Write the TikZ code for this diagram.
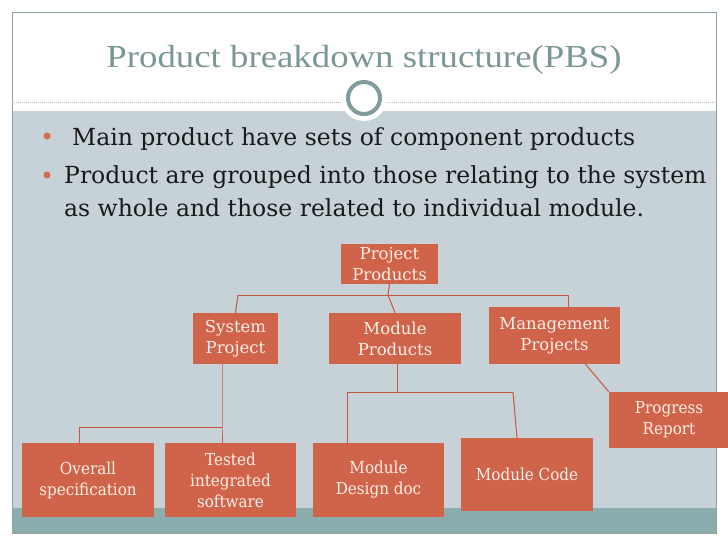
\documentclass[tikz,border=0pt]{standalone}
\usepackage{fontspec}
\setmainfont{DejaVu Serif}
\newfontfamily\titlefont[FakeStretch=1.15]{Liberation Serif}
\newfontfamily\condfont[FakeStretch=0.92]{DejaVu Serif}
\definecolor{boxfill}{HTML}{D0644A}
\definecolor{boxtext}{HTML}{FCEFE8}
\definecolor{linecol}{HTML}{C8563F}
\definecolor{bandgray}{HTML}{C6D2D8}
\definecolor{bandteal}{HTML}{8BADAD}
\definecolor{framecol}{HTML}{8FA3A3}
\definecolor{titlecol}{HTML}{7A9696}
\definecolor{circcol}{HTML}{7F9B9B}
\definecolor{dotcol}{HTML}{A9B8C0}
\definecolor{bulletcol}{HTML}{D9694E}
\definecolor{bodytext}{HTML}{1A1A1A}
\tikzset{
  pbox/.style={rectangle, fill=boxfill, text=boxtext, align=center, inner sep=0pt,
    font=\fontsize{16.5}{21}\selectfont},
  lowbox/.style={pbox, font=\condfont\fontsize{16.5}{21}\selectfont},
  conn/.style={draw=linecol, line width=1pt},
  bodyline/.style={anchor=base west, inner sep=0pt, text=bodytext,
    font=\fontsize{23.5}{28}\selectfont},
  bulletdot/.style={fill=bulletcol}
}
\begin{document}
\begin{tikzpicture}[x=1pt,y=-1pt]
\useasboundingbox (0,0) rectangle (728,546);
\fill[white] (0,0) rectangle (728,546);
% bands
\fill[bandgray] (12,111) rectangle (716,508);
\fill[bandteal] (12,508) rectangle (716,533);
\draw[framecol, line width=0.8pt] (12,12) rectangle (716,533);
\draw[dotcol, line width=0.8pt, dash pattern=on 1pt off 1pt] (12,102) -- (716,102);
\fill[white] (364,98) circle (23);
\draw[circcol, line width=4pt] (364,98) circle (16);
% title
\node[anchor=base, inner sep=0pt, text=titlecol, font=\titlefont\fontsize{32}{36}\selectfont] (title) at (364,67) {Product breakdown structure(PBS)};
% bullets
\fill[bulletdot] (47,136) circle (3.5);
\fill[bulletdot] (47,175) circle (3.5);
\node[bodyline] (b1) at (72,145) {Main product have sets of component products};
\node[bodyline] (b2) at (64,183) {Product are grouped into those relating to the system};
\node[bodyline] (b3) at (64,216) {as whole and those related to individual module.};
% boxes
\node[pbox, minimum width=97pt, minimum height=40pt] (pp) at (389.5,264) {Project\\Products};
\node[pbox, minimum width=85pt, minimum height=51pt] (sp) at (235.5,338.5) {System\\Project};
\node[pbox, minimum width=132pt, minimum height=51pt] (mp) at (395,338.5) {Module\\Products};
\node[pbox, minimum width=131pt, minimum height=57pt] (mg) at (554.5,335.5) {Management\\Projects};
\node[lowbox, minimum width=120pt, minimum height=56pt] (pr) at (669,420) {Progress\\Report};
\node[lowbox, minimum width=132pt, minimum height=74pt] (os) at (88,480) {Overall\\specification};
\node[lowbox, minimum width=131pt, minimum height=74pt] (ti) at (230.5,480) {Tested\\integrated\\software};
\node[lowbox, minimum width=131pt, minimum height=74pt] (md) at (378.5,480) {Module\\Design doc};
\node[lowbox, minimum width=132pt, minimum height=73pt] (mc) at (527,474.5) {Module Code};
% connectors
\coordinate (j1) at (388,295);
\coordinate (hl) at (238,295);
\coordinate (hr) at (568,295);
\draw[conn] (pp.south) -- (j1) -- (mp.north);
\draw[conn] (hl) -- (hr);
\draw[conn] (hl) -- (sp.north);
\draw[conn] (hr) -- (hr |- mg.north);
\coordinate (t1) at (222,427);
\coordinate (t0) at (79,427);
\draw[conn] (t1 |- sp.south) -- (t1) -- (t1 |- ti.north);
\draw[conn] (t0) -- (t1);
\draw[conn] (t0) -- (t0 |- os.north);
\coordinate (m1) at (397,392);
\coordinate (m0) at (347,392);
\coordinate (m2) at (513,392);
\draw[conn] (m1 |- mp.south) -- (m1);
\draw[conn] (m0) -- (m2);
\draw[conn] (m0) -- (m0 |- md.north);
\draw[conn] (m2) -- ([xshift=4pt]m2 |- mc.north);
\draw[conn] ([xshift=31pt]mg.south) -- (pr.north west);
\end{tikzpicture}
\end{document}
